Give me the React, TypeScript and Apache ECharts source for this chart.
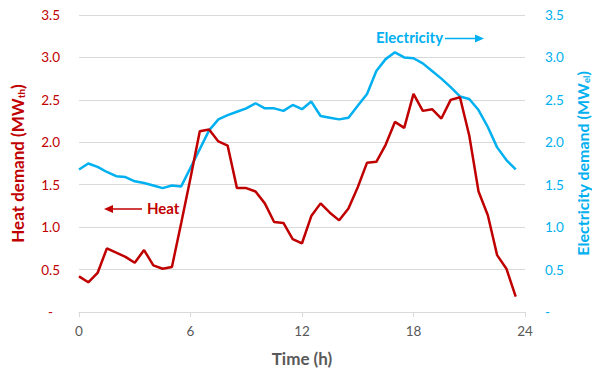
import React, { useEffect, useRef } from "react";
import * as echarts from "echarts";

const hours = [
  0, 0.5, 1, 1.5, 2, 2.5, 3, 3.5, 4, 4.5, 5, 5.5, 6, 6.5, 7, 7.5, 8, 8.5, 9, 9.5,
  10, 10.5, 11, 11.5, 12, 12.5, 13, 13.5, 14, 14.5, 15, 15.5, 16, 16.5, 17, 17.5,
  18, 18.5, 19, 19.5, 20, 20.5, 21, 21.5, 22, 22.5, 23, 23.5,
];

const heatDemand = [
  0.42, 0.35, 0.46, 0.75, 0.7, 0.65, 0.58, 0.73, 0.55, 0.51, 0.53, 1.05, 1.58,
  2.13, 2.15, 2.01, 1.96, 1.46, 1.46, 1.42, 1.28, 1.06, 1.05, 0.86, 0.81, 1.13,
  1.28, 1.17, 1.08, 1.22, 1.47, 1.76, 1.77, 1.97, 2.24, 2.17, 2.57, 2.37, 2.39,
  2.28, 2.5, 2.53, 2.08, 1.42, 1.14, 0.67, 0.51, 0.18,
];

const electricityDemand = [
  1.68, 1.75, 1.71, 1.65, 1.6, 1.59, 1.54, 1.52, 1.49, 1.46, 1.49, 1.48, 1.7,
  1.92, 2.14, 2.27, 2.32, 2.36, 2.4, 2.46, 2.4, 2.4, 2.37, 2.44, 2.39, 2.48,
  2.31, 2.29, 2.27, 2.29, 2.43, 2.57, 2.84, 2.98, 3.06, 3.0, 2.99, 2.93, 2.84,
  2.75, 2.65, 2.54, 2.51, 2.38, 2.18, 1.94, 1.79, 1.68,
];

const RED = "#C00000";
const BLUE = "#00B0F0";
const GRAY = "#595959";
const FONT = "Lato, 'Open Sans', sans-serif";

const fmt = (v: number, zero: string) => (v === 0 ? zero : v.toFixed(1));

export default function App() {
  const ref = useRef<HTMLDivElement>(null);

  useEffect(() => {
    document.body.style.margin = "0";
    if (!ref.current) return;
    const chart = echarts.init(ref.current, null, { renderer: "svg" });
    const heatPts = hours.map((h, i) => [h, heatDemand[i]]);
    const elecPts = hours.map((h, i) => [h, electricityDemand[i]]);
    chart.setOption({
      animation: false,
      textStyle: { fontFamily: FONT },
      grid: { left: 79, right: 67, top: 15, bottom: 60, outerBoundsMode: "none", containLabel: false },
      xAxis: {
        type: "value",
        min: 0,
        max: 24,
        interval: 6,
        name: "Time (h)",
        nameLocation: "middle",
        nameGap: 38,
        nameTextStyle: { color: GRAY, fontWeight: "bold", fontSize: 17, fontFamily: FONT },
        axisLine: { show: true, lineStyle: { color: "#D9D9D9", width: 1 } },
        axisTick: { show: true, length: 5, lineStyle: { color: "#D9D9D9" } },
        axisLabel: { color: GRAY, fontSize: 13.5, margin: 12, fontFamily: FONT },
        splitLine: { show: false },
      },
      yAxis: [
        {
          type: "value",
          min: 0,
          max: 3.5,
          interval: 0.5,
          position: "left",
          name: "Heat demand (MW{sub|th})",
          nameLocation: "middle",
          nameGap: 53,
          nameTextStyle: {
            color: RED,
            fontWeight: "bold",
            fontSize: 17,
            fontFamily: FONT,
            rich: {
              sub: { fontSize: 10, fontWeight: "bold", color: RED, fontFamily: FONT, padding: [8, 0, 0, 0] },
            },
          },
          axisLine: { show: false },
          axisTick: { show: false },
          axisLabel: {
            color: RED,
            fontSize: 13.5,
            margin: 19,
            fontFamily: FONT,
            formatter: (v: number) => fmt(v, "-  "),
          },
          splitLine: { show: true, lineStyle: { color: "#D9D9D9", width: 1 } },
        },
        {
          type: "value",
          min: 0,
          max: 3.5,
          interval: 0.5,
          position: "right",
          name: "Electricity demand (MW{sub|el})",
          nameLocation: "middle",
          nameGap: 47,
          nameRotate: 90,
          nameTextStyle: {
            color: BLUE,
            fontWeight: "bold",
            fontSize: 16,
            fontFamily: FONT,
            rich: {
              sub: { fontSize: 9.5, fontWeight: "bold", color: BLUE, fontFamily: FONT, padding: [7, 0, 0, 0] },
            },
          },
          axisLine: { show: false },
          axisTick: { show: false },
          axisLabel: {
            color: BLUE,
            fontSize: 13.5,
            margin: 20,
            fontFamily: FONT,
            formatter: (v: number) => fmt(v, "-"),
          },
          splitLine: { show: false },
        },
      ],
      series: [
        {
          name: "Electricity",
          type: "line",
          yAxisIndex: 1,
          data: elecPts,
          showSymbol: false,
          lineStyle: { color: BLUE, width: 2.5 },
          itemStyle: { color: BLUE },
          z: 2,
        },
        {
          name: "Heat",
          type: "line",
          yAxisIndex: 0,
          data: heatPts,
          showSymbol: false,
          lineStyle: { color: RED, width: 2.5 },
          itemStyle: { color: RED },
          z: 3,
        },
      ],
      graphic: [
        { type: "line", shape: { x1: 112, y1: 209, x2: 142, y2: 209 }, style: { stroke: RED, lineWidth: 1.5 } },
        { type: "polygon", shape: { points: [[104, 209], [113, 205], [113, 213]] }, style: { fill: RED } },
        {
          type: "text",
          left: 147,
          top: 200,
          style: { text: "Heat", fill: RED, font: `bold 15px ${FONT}` },
        },
        {
          type: "text",
          left: 376,
          top: 29,
          style: { text: "Electricity", fill: BLUE, font: `bold 15px ${FONT}` },
        },
        { type: "line", shape: { x1: 445, y1: 38.5, x2: 476, y2: 38.5 }, style: { stroke: BLUE, lineWidth: 1.5 } },
        { type: "polygon", shape: { points: [[484, 38.5], [475, 34.5], [475, 42.5]] }, style: { fill: BLUE } },
      ],
    });
    return () => chart.dispose();
  }, []);

  return <div ref={ref} style={{ position: "absolute", left: 0, top: 0, width: 592, height: 372 }} />;
}
